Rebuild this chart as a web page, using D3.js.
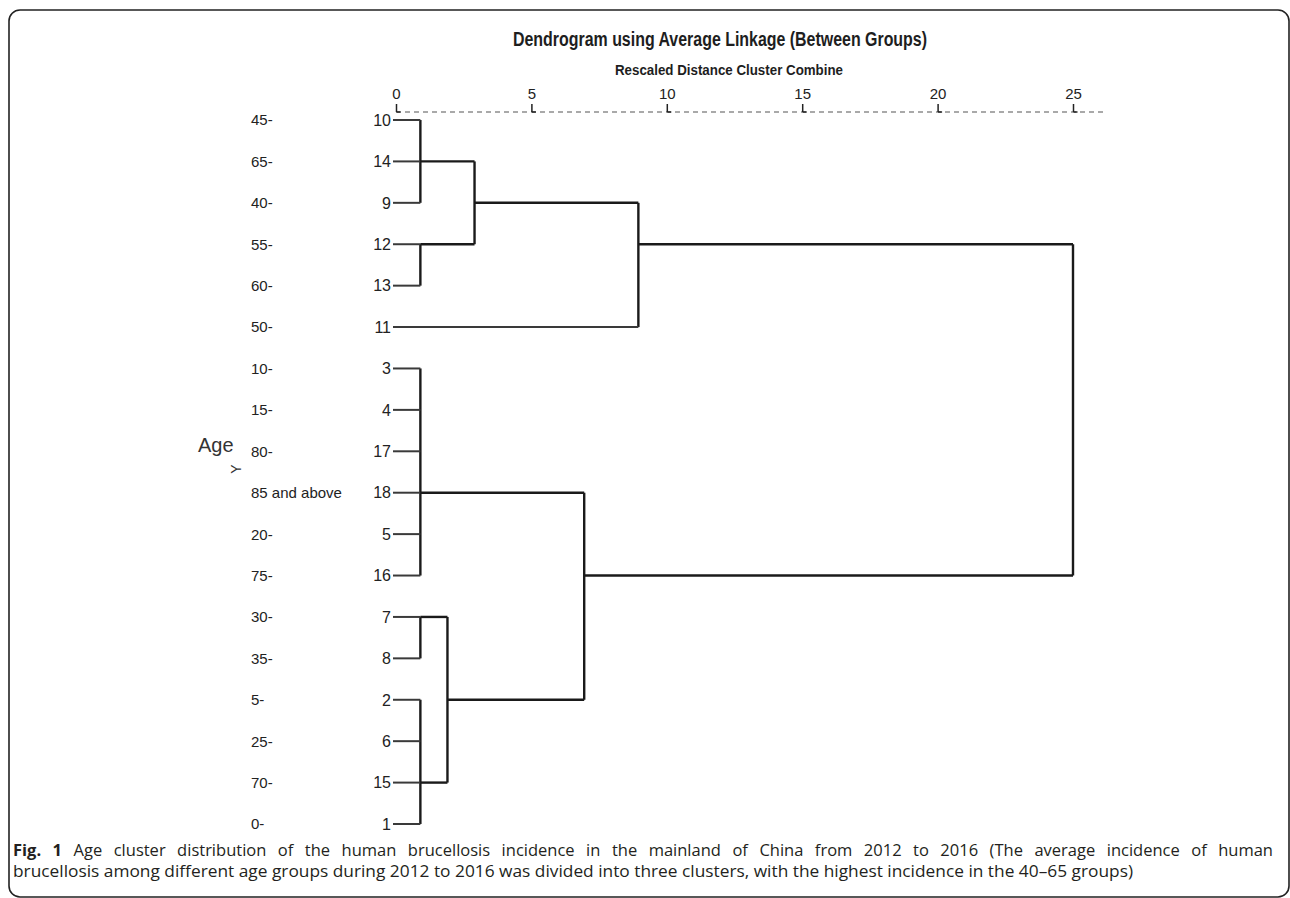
<!DOCTYPE html>
<html>
<head>
<meta charset="utf-8">
<script src="https://cdn.jsdelivr.net/npm/d3@7"></script>
<style>
  html, body { margin: 0; padding: 0; background: #fff; }
  svg { display: block; }
</style>
</head>
<body>
<svg id="chart" width="1290" height="898"></svg>
<script>
// ---------- data ----------
const leafIds = ["10","14","9","12","13","11","3","4","17","18","5","16","7","8","2","6","15","1"];
const ageLabels = ["45-","65-","40-","55-","60-","50-","10-","15-","80-","85 and above","20-","75-","30-","35-","5-","25-","70-","0-"];
const tickValues = [0, 5, 10, 15, 20, 25];
// merge steps: cluster id, members, rescaled distance, leaf whose row carries the output line
const mergeIds      = ["A", "B", "C", "D", "E", "F", "G", "H", "I", "J"];
const mergeChildren = [["10","14","9"], ["12","13"], ["A","B"], ["C","11"], ["3","4","17","18","5","16"], ["7","8"], ["2","6","15","1"], ["F","G"], ["E","H"], ["D","I"]];
const mergeDist     = [0.9, 0.9, 2.9, 8.95, 0.9, 0.9, 0.9, 1.9, 6.95, 25];
const mergeAnchor   = ["14", "12", "9", "12", "18", "7", "15", "2", "16", "12"];

const titleText = "Dendrogram using Average Linkage (Between Groups)";
const subtitleText = "Rescaled Distance Cluster Combine";
const captionBold = "Fig. 1";
const captionLine1 = " Age cluster distribution of the human brucellosis incidence in the mainland of China from 2012 to 2016 (The average incidence of human";
const captionLine2 = "brucellosis among different age groups during 2012 to 2016 was divided into three clusters, with the highest incidence in the 40\u201365 groups)";

// ---------- layout ----------
const svg = d3.select("#chart");
const narrow = "'Liberation Sans Narrow', 'Arial Narrow', 'Liberation Sans', Arial, sans-serif";
const sans = "'Liberation Sans', Arial, sans-serif";

// frame
svg.append("rect")
  .attr("x", 9).attr("y", 10).attr("width", 1280).attr("height", 887)
  .attr("rx", 11).attr("ry", 11)
  .attr("fill", "none").attr("stroke", "#222").attr("stroke-width", 1.6);

const x = d3.scaleLinear().domain([0, 25]).range([396, 1073]);
const y = d3.scalePoint().domain(leafIds).range([120, 824]);

// title
svg.append("text")
  .attr("x", 720).attr("y", 46).attr("text-anchor", "middle")
  .attr("font-family", narrow).attr("font-weight", "bold").attr("font-size", 20)
  .attr("fill", "#1e1e1e")
  .attr("textLength", 414).attr("lengthAdjust", "spacingAndGlyphs")
  .text(titleText);
svg.append("text")
  .attr("x", 729).attr("y", 75).attr("text-anchor", "middle")
  .attr("font-family", narrow).attr("font-weight", "bold").attr("font-size", 14.5)
  .attr("fill", "#1e1e1e")
  .attr("textLength", 228).attr("lengthAdjust", "spacingAndGlyphs")
  .text(subtitleText);

// axis (top), dashed baseline
const axisY = 112;
svg.append("line")
  .attr("x1", x(0)).attr("x2", x(26.2)).attr("y1", axisY).attr("y2", axisY)
  .attr("stroke", "#555").attr("stroke-width", 1.2).attr("stroke-dasharray", "5,4");
const axisG = svg.append("g").attr("transform", `translate(0,${axisY})`)
  .call(d3.axisTop(x).tickValues(tickValues).tickSize(8).tickPadding(5).tickFormat(d3.format("d")));
axisG.select(".domain").remove();
axisG.selectAll(".tick line").attr("stroke", "#222").attr("stroke-width", 1.5);
axisG.selectAll(".tick").append("line")
  .attr("x1", 0).attr("x2", 4).attr("y1", 0).attr("y2", 0)
  .attr("stroke", "#222").attr("stroke-width", 1.5);
axisG.selectAll(".tick text")
  .attr("font-family", narrow).attr("font-size", 15).attr("fill", "#222");

// age labels
svg.append("g").selectAll("text").data(leafIds).join("text")
  .attr("x", 251).attr("y", d => y(d)).attr("dy", "0.36em")
  .attr("font-family", sans).attr("font-size", 15).attr("fill", "#222")
  .text((d, i) => ageLabels[i]);

// leaf numbers
svg.append("g").selectAll("text").data(leafIds).join("text")
  .attr("x", 391).attr("y", d => y(d)).attr("dy", "0.36em").attr("text-anchor", "end")
  .attr("font-family", sans).attr("font-size", 16).attr("fill", "#222")
  .text(d => d);

// Age axis title
svg.append("text")
  .attr("x", 198).attr("y", 452)
  .attr("font-family", sans).attr("font-size", 20).attr("fill", "#333")
  .text("Age");
svg.append("text")
  .attr("transform", "translate(236,469) rotate(-90)")
  .attr("text-anchor", "middle").attr("dy", "0.36em")
  .attr("font-family", sans).attr("font-size", 14).attr("fill", "#333")
  .text("Y");

// ---------- dendrogram ----------
const nodeDist = {}, nodeY = {};
leafIds.forEach(id => { nodeDist[id] = 0; nodeY[id] = y(id); });
mergeIds.forEach((id, i) => { nodeDist[id] = mergeDist[i]; nodeY[id] = y(mergeAnchor[i]); });

const gLinks = svg.append("g").attr("fill", "none");
mergeIds.forEach((id, i) => {
  const kids = mergeChildren[i];
  const xm = x(mergeDist[i]);
  const ys = kids.map(k => nodeY[k]);
  gLinks.append("line")
    .attr("x1", xm).attr("x2", xm).attr("y1", d3.min(ys)).attr("y2", d3.max(ys))
    .attr("stroke", "#1a1a1a").attr("stroke-width", 2.4);
  kids.forEach(k => {
    const isLeaf = leafIds.includes(k);
    gLinks.append("line")
      .attr("x1", isLeaf ? x(0) - 3 : x(nodeDist[k])).attr("x2", xm)
      .attr("y1", nodeY[k]).attr("y2", nodeY[k])
      .attr("stroke", isLeaf ? "#3a3a3a" : "#1a1a1a")
      .attr("stroke-width", isLeaf ? 2 : 2.4);
  });
});

// ---------- caption ----------
const capFont = "'Open Sans', 'Noto Sans', sans-serif";
const capSize = 16.5;
const cap1 = svg.append("text")
  .attr("x", 13).attr("y", 856)
  .attr("font-family", capFont).attr("font-size", capSize).attr("fill", "#231f20");
cap1.append("tspan").attr("font-weight", "bold").text(captionBold);
cap1.append("tspan").text(captionLine1);
// justify line 1 to the full width by widening word spaces
const nat1 = cap1.node().getComputedTextLength();
const spaces1 = (captionBold + captionLine1).split(" ").length - 1;
cap1.attr("word-spacing", Math.max(0, (1260 - nat1) / spaces1));

const cap2 = svg.append("text")
  .attr("x", 13).attr("y", 877)
  .attr("font-family", capFont).attr("font-size", capSize).attr("fill", "#231f20")
  .text(captionLine2);
cap2.attr("textLength", 1120).attr("lengthAdjust", "spacingAndGlyphs");
</script>
</body>
</html>
